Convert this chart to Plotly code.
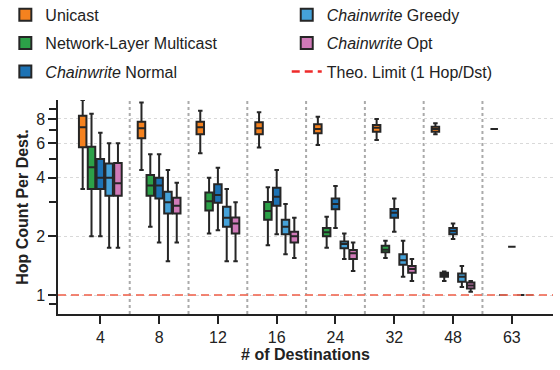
import plotly.graph_objects as go

categories = ["4", "8", "12", "16", "24", "32", "48", "63"]

series_names = [
    "Unicast",
    "Network-Layer Multicast",
    "<i>Chainwrite</i> Normal",
    "<i>Chainwrite</i> Greedy",
    "<i>Chainwrite</i> Opt",
]
series_colors = ["#f5821f", "#2ca148", "#1c72b4", "#45a2d9", "#d07ab8"]

unicast_low = [3.5, 4.38, 5.33, 5.7, 5.88, 6.24, 6.67, 7.1]
unicast_q1 = [5.72, 6.36, 6.67, 6.67, 6.75, 6.88, 6.88, 7.1]
unicast_med = [7.25, 7.16, 7.25, 7.16, 7.1, 7.2, 7.1, 7.1]
unicast_q3 = [8.3, 7.74, 7.74, 7.7, 7.5, 7.45, 7.3, 7.1]
unicast_high = [10.0, 9.7, 8.8, 8.65, 8.2, 8.0, 7.6, 7.1]

multicast_low = [2.0, 2.24, 2.07, 1.8, 1.75, 1.55, 1.18, 1.0]
multicast_q1 = [3.5, 3.23, 2.71, 2.43, 2.0, 1.66, 1.24, 1.0]
multicast_med = [4.52, 3.64, 3.03, 2.7, 2.1, 1.71, 1.27, 1.0]
multicast_q3 = [5.76, 4.12, 3.36, 3.0, 2.21, 1.79, 1.30, 1.0]
multicast_high = [8.5, 5.27, 4.0, 3.57, 2.52, 1.9, 1.32, 1.0]

normal_low = [2.0, 1.86, 2.15, 2.05, 2.21, 2.11, 1.94, 1.77]
normal_q1 = [3.5, 3.13, 2.97, 2.87, 2.75, 2.49, 2.05, 1.77]
normal_med = [4.0, 3.64, 3.26, 3.19, 2.93, 2.64, 2.13, 1.77]
normal_q3 = [4.98, 4.0, 3.7, 3.55, 3.13, 2.76, 2.21, 1.77]
normal_high = [6.8, 5.27, 4.5, 4.38, 3.62, 3.13, 2.33, 1.77]

greedy_low = [1.75, 1.49, 1.49, 1.62, 1.53, 1.24, 1.10, 1.0]
greedy_q1 = [3.23, 2.62, 2.24, 2.05, 1.74, 1.43, 1.17, 1.0]
greedy_med = [4.0, 2.99, 2.49, 2.24, 1.83, 1.51, 1.24, 1.0]
greedy_q3 = [4.73, 3.39, 2.84, 2.43, 1.88, 1.62, 1.29, 1.0]
greedy_high = [6.0, 4.38, 3.5, 2.93, 2.07, 1.9, 1.41, 1.0]

opt_low = [1.75, 1.86, 1.49, 1.55, 1.33, 1.18, 1.04, 1.0]
opt_q1 = [3.23, 2.62, 2.07, 1.86, 1.53, 1.30, 1.08, 1.0]
opt_med = [3.74, 2.87, 2.33, 2.0, 1.64, 1.36, 1.12, 1.0]
opt_q3 = [4.75, 3.15, 2.5, 2.11, 1.70, 1.41, 1.16, 1.0]
opt_high = [6.0, 3.77, 2.99, 2.49, 1.86, 1.53, 1.18, 1.0]

theo_limit = 1.0
y_tick_vals = [1, 2, 4, 6, 8]
y_minor_vals = [0.9, 3, 5, 7, 9]

stats = [
    (unicast_low, unicast_q1, unicast_med, unicast_q3, unicast_high),
    (multicast_low, multicast_q1, multicast_med, multicast_q3, multicast_high),
    (normal_low, normal_q1, normal_med, normal_q3, normal_high),
    (greedy_low, greedy_q1, greedy_med, greedy_q3, greedy_high),
    (opt_low, opt_q1, opt_med, opt_q3, opt_high),
]

FONT = "Liberation Sans, Arial, sans-serif"
EDGE = "#262626"

fig = go.Figure()
legend_of = ["legend", "legend", "legend", "legend2", "legend2"]
for i, (name, color, (lo, q1, med, q3, hi)) in enumerate(zip(series_names, series_colors, stats)):
    fig.add_trace(go.Box(
        x=categories, q1=q1, median=med, q3=q3, lowerfence=lo, upperfence=hi,
        name=name, fillcolor=color, line=dict(color=EDGE, width=2),
        whiskerwidth=0.6, boxpoints=False, legend=legend_of[i],
        legendgroup=name, hoverinfo="skip",
    ))

# legend entry for the theoretical limit
fig.add_trace(go.Scatter(
    x=[None], y=[None], mode="lines", name="Theo. Limit (1 Hop/Dst)",
    line=dict(color="#ee2a2a", width=2.5, dash="8px,5px"), legend="legend2",
    legendgroup="theo",
))

fig.add_shape(type="line", xref="paper", yref="y", x0=0, x1=1, y0=theo_limit, y1=theo_limit,
              line=dict(color="rgba(240,110,90,0.85)", width=2, dash="8px,5px"), layer="above")

for k in range(len(categories) - 1):
    fig.add_shape(type="line", xref="x", yref="paper", x0=k + 0.5, x1=k + 0.5, y0=0, y1=1,
                  line=dict(color="#aaaaaa", width=2, dash="dot"), layer="below")

legend_common = dict(
    xref="paper", yref="paper", yanchor="top", xanchor="left",
    font=dict(family=FONT, size=16, color="#222"), bgcolor="rgba(0,0,0,0)",
    tracegroupgap=4.5, itemwidth=30, traceorder="grouped",
)

fig.update_layout(
    width=560, height=370,
    margin=dict(l=57.5, r=7, t=100, b=56, autoexpand=False),
    paper_bgcolor="white", plot_bgcolor="white",
    font=dict(family=FONT, size=16, color="#222"),
    boxmode="group", boxgap=0.25, boxgroupgap=0.15,
    legend=dict(x=-0.1064, y=1.477, **legend_common),
    legend2=dict(x=0.4621, y=1.477, **legend_common),
    xaxis=dict(
        type="category", categoryorder="array", categoryarray=categories,
        range=[-0.72, 7.7], autorange=False, showline=True, linecolor="#222", linewidth=1.5,
        ticks="outside", ticklen=8, tickwidth=1.5, tickcolor="#222", showgrid=False,
        tickfont=dict(size=16), zeroline=False,
        title=dict(text="<b># of Destinations</b>", font=dict(size=16), standoff=2),
    ),
    yaxis=dict(
        type="log", range=[-0.097, 1.0], autorange=False, showline=True, linecolor="#222", linewidth=1.5,
        tickvals=y_tick_vals, ticktext=[str(v) for v in y_tick_vals],
        ticks="outside", ticklen=8, tickwidth=1.5, tickcolor="#222",
        tickfont=dict(size=16),
        showgrid=True, gridcolor="#d9d9d9", griddash="dot", gridwidth=1,
        minor=dict(tickvals=y_minor_vals, ticks="outside", ticklen=7, tickwidth=1.5,
                   tickcolor="#222", showgrid=False),
        zeroline=False,
        title=dict(text="<b>Hop Count Per Dest.</b>", font=dict(size=16), standoff=4),
    ),
    showlegend=True,
)

fig.write_html(
    "out.html",
    config={"displayModeBar": False, "staticPlot": False},
    post_script="document.body.style.margin='0';document.body.style.overflow='hidden';",
)
